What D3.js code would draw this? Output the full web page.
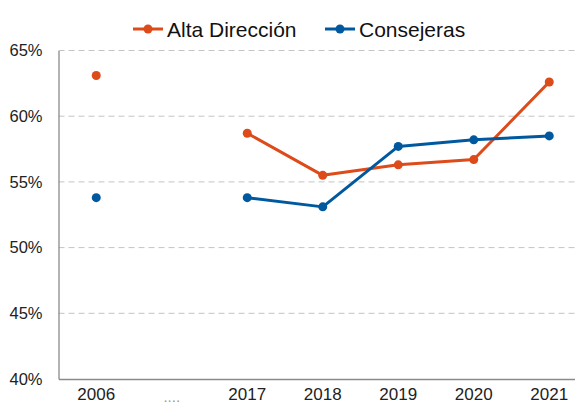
<!DOCTYPE html>
<html>
<head>
<meta charset="utf-8">
<script src="https://cdn.jsdelivr.net/npm/d3@7"></script>
<style>
  body { margin: 0; overflow: hidden; background: #fff; }
  text { font-family: "Liberation Sans", Arial, sans-serif; }
</style>
</head>
<body>
<svg id="chart"></svg>
<script>
// Data
const categories = ["2006", "....", "2017", "2018", "2019", "2020", "2021"];
const altaDireccion = [63.1, null, 58.7, 55.5, 56.3, 56.7, 62.6];
const consejeras = [53.8, null, 53.8, 53.1, 57.7, 58.2, 58.5];
const yTicks = [40, 45, 50, 55, 60, 65];

const series = [
  { name: "Alta Dirección", values: altaDireccion, color: "#dd4b1a" },
  { name: "Consejeras", values: consejeras, color: "#00599f" }
];

const W = 575, H = 405;
const margin = { top: 50.5, left: 58.5, bottom: 26 };
// plot is wider than the window (right side cropped in the original)
const plotRight = 587;

const svg = d3.select("#chart").attr("width", W).attr("height", H);

const x = d3.scaleBand().domain(categories).range([margin.left, plotRight]).padding(0);
const y = d3.scaleLinear().domain([40, 65]).range([H - margin.bottom, margin.top]);

// Gridlines
svg.append("g")
  .selectAll("line")
  .data(yTicks.filter((d) => d > 40))
  .enter()
  .append("line")
  .attr("x1", margin.left)
  .attr("x2", plotRight)
  .attr("y1", (d) => y(d))
  .attr("y2", (d) => y(d))
  .attr("stroke", "#c4c4c4")
  .attr("stroke-width", 1)
  .attr("stroke-dasharray", "6,4");

// Y axis
const yAxis = svg.append("g")
  .attr("transform", `translate(${margin.left},0)`)
  .call(d3.axisLeft(y).tickValues(yTicks).tickSize(0).tickPadding(16).tickFormat((d) => d + "%"));
yAxis.select(".domain").attr("stroke", "#8a8a8a").attr("stroke-width", 1.3);
yAxis.selectAll("text").style("font-size", "16.5px").attr("fill", "#222");

// X axis
const xAxis = svg.append("g")
  .attr("transform", `translate(0,${y(40)})`)
  .call(d3.axisBottom(x).tickSize(0).tickPadding(9));
xAxis.select(".domain").attr("stroke", "#8a8a8a").attr("stroke-width", 1.3);
xAxis.selectAll("text")
  .style("font-size", "17px")
  .attr("fill", "#222")
  .filter((d) => d === "....")
  .attr("fill", "#9a9a9a")
  .style("font-size", "15px")
  .attr("dy", "0.9em");

// Lines and dots
const line = d3.line()
  .defined((d) => d != null)
  .x((d, i) => x(categories[i]) + x.bandwidth() / 2)
  .y((d) => y(d));

series.forEach((s) => {
  svg.append("path")
    .datum(s.values)
    .attr("fill", "none")
    .attr("stroke", s.color)
    .attr("stroke-width", 3)
    .attr("stroke-linejoin", "round")
    .attr("d", line);

  svg.append("g")
    .selectAll("circle")
    .data(s.values.map((v, i) => ({ v, c: categories[i] })).filter((d) => d.v != null))
    .enter()
    .append("circle")
    .attr("cx", (d) => x(d.c) + x.bandwidth() / 2)
    .attr("cy", (d) => y(d.v))
    .attr("r", 4.5)
    .attr("fill", s.color);
});

// Legend
const legendX = [133, 325];
const legend = svg.append("g")
  .selectAll("g")
  .data(series)
  .enter()
  .append("g")
  .attr("transform", (d, i) => `translate(${legendX[i]},29)`);

legend.append("line")
  .attr("x1", 0).attr("x2", 30)
  .attr("stroke", (d) => d.color)
  .attr("stroke-width", 3);
legend.append("circle")
  .attr("cx", 15)
  .attr("r", 4.5)
  .attr("fill", (d) => d.color);
legend.append("text")
  .attr("x", 34)
  .attr("y", 7.5)
  .style("font-size", "21px")
  .attr("fill", "#111")
  .text((d) => d.name);
</script>
</body>
</html>
